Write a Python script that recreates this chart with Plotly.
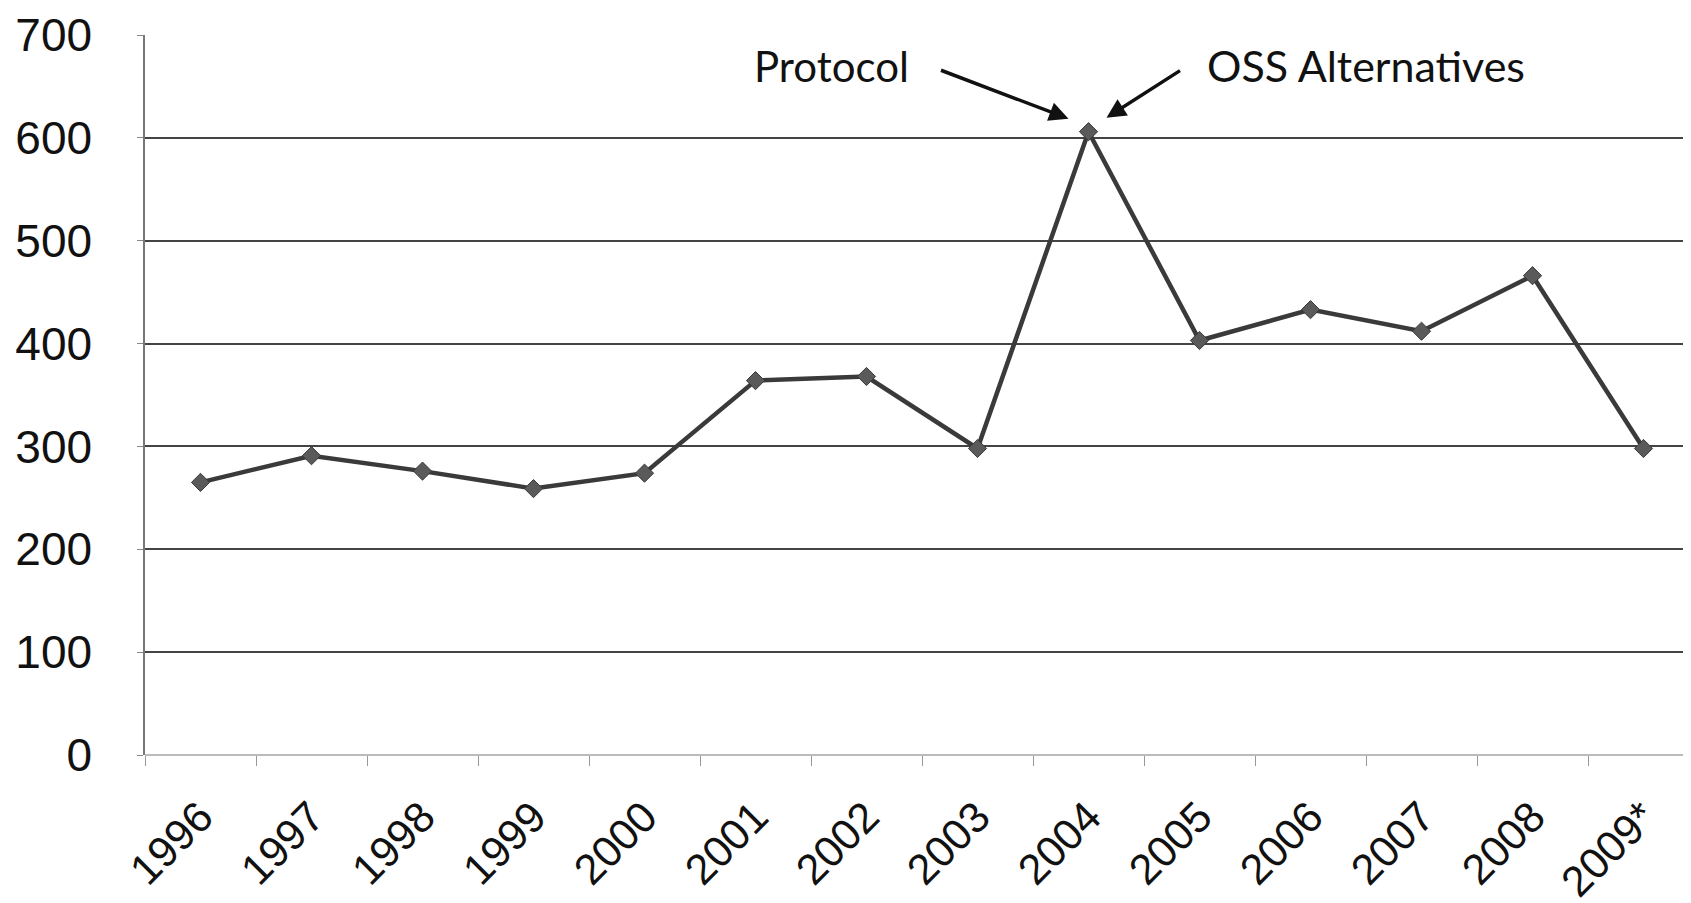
import plotly.graph_objects as go

# data
years = ["1996", "1997", "1998", "1999", "2000", "2001", "2002",
         "2003", "2004", "2005", "2006", "2007", "2008", "2009*"]
counts = [265, 291, 276, 259, 274, 364, 368, 298, 606, 403, 433, 412, 466, 298]
y_ticks = [0, 100, 200, 300, 400, 500, 600, 700]

peak = counts.index(max(counts))

fig = go.Figure()

fig.add_trace(go.Scatter(
    x=years, y=counts,
    mode="lines+markers",
    line=dict(color="#3a3a3a", width=4.5),
    marker=dict(symbol="diamond", size=14, color="#5a5a5a",
                line=dict(width=1, color="#3a3a3a")),
    showlegend=False,
))

# callouts pointing at the 2004 peak (x given as category index,
# a numeric-looking string would be read as an index by plotly.js)
arrow = dict(xref="x", yref="y", x=peak, y=counts[peak], text="",
             showarrow=True, arrowhead=2, arrowsize=1.1,
             arrowwidth=3.5, arrowcolor="#111")
fig.add_annotation(**arrow, xshift=-20, yshift=13, ax=-129, ay=-49)
fig.add_annotation(**arrow, xshift=18, yshift=14, ax=75, ay=-48)
fig.add_annotation(x=peak, y=counts[peak], xref="x", yref="y",
                   text="Protocol", showarrow=False,
                   font=dict(family="Lato", size=42, color="#111"),
                   xshift=-257, yshift=66)
fig.add_annotation(x=peak, y=counts[peak], xref="x", yref="y",
                   text="OSS Alternatives", showarrow=False,
                   font=dict(family="Lato", size=43, color="#111"),
                   xshift=277, yshift=66)

fig.update_xaxes(
    type="category",
    range=[-0.5, len(years) - 0.5],
    tickangle=-45,
    tickfont=dict(family="Liberation Sans", size=43, color="#111"),
    ticks="outside", tickson="boundaries", ticklen=10,
    tickcolor="#999", tickwidth=1,
    ticklabelstandoff=27,
    showgrid=False, showline=False, zeroline=False,
    automargin=False,
)
fig.update_yaxes(
    range=[0, 700],
    tickvals=y_ticks,
    tickfont=dict(family="Liberation Sans", size=46, color="#111"),
    ticklabelstandoff=36,
    showgrid=True, gridcolor="#444", gridwidth=1.5,
    showline=True, linecolor="#777", linewidth=1.5,
    ticks="outside", ticklen=6, tickcolor="#888",
    zeroline=True, zerolinecolor="#bbb", zerolinewidth=1.5,
    automargin=False,
)

fig.update_layout(
    width=1691, height=903,
    margin=dict(l=137, r=0, t=27, b=156),
    plot_bgcolor="white", paper_bgcolor="white",
)

fig.write_html("out.html")
